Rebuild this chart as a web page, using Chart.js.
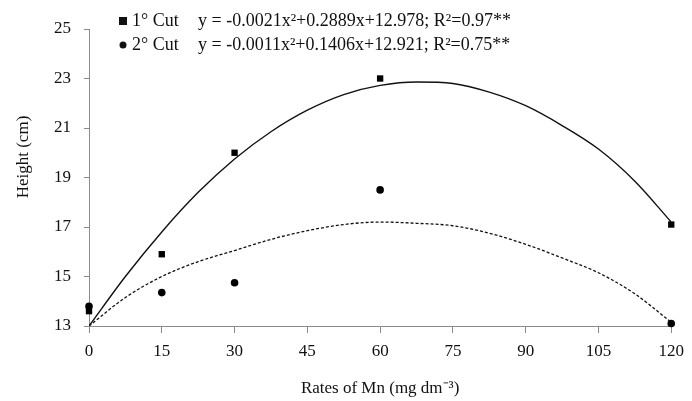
<!DOCTYPE html>
<html>
<head>
<meta charset="utf-8">
<script src="https://cdn.jsdelivr.net/npm/chart.js@4"></script>
<style>
  body { margin: 0; background: #fff; }
  #wrap { width: 692px; height: 401px; }
</style>
</head>
<body>
<div id="wrap"><canvas id="mnChart"></canvas></div>
<script>
// doses of Mn and measured heights
var dosis = [0, 15, 30, 60, 120];
var corte1 = [13.6, 15.9, 20.0, 23.0, 17.1];
var corte2 = [13.8, 14.35, 14.75, 18.5, 13.1];

// trend curves
var curvaX = [0, 7.5, 15, 22.5, 30, 37.5, 45, 52.5, 60, 67.5, 75, 82.5, 90, 97.5, 105, 112.5, 120];
var curva1 = [13.0, 15.0, 16.8, 18.4, 19.75, 20.85, 21.72, 22.35, 22.72, 22.86, 22.8, 22.45, 21.9, 21.1, 20.15, 18.85, 17.2];
var curva2 = [13.0, 14.15, 15.0, 15.6, 16.05, 16.5, 16.85, 17.1, 17.2, 17.15, 17.05, 16.75, 16.3, 15.75, 15.15, 14.3, 13.15];

var etiquetas = ['1° Cut', '2° Cut'];
var ecuaciones = [
  'y = -0.0021x²+0.2889x+12.978; R²=0.97**',
  'y = -0.0011x²+0.1406x+12.921; R²=0.75**'
];
var tituloY = 'Height (cm)';
var tituloX = 'Rates of Mn (mg dm⁻³)';

function pares(xs, ys) {
  return xs.map(function(x, i) { return { x: x, y: ys[i] }; });
}

var fuente = 'Liberation Serif';
var gris = '#8a8a8a';

// leyenda y titulo del eje y dibujados a mano
var extras = {
  id: 'extras',
  afterDraw: function(chart) {
    var ctx = chart.ctx;
    ctx.save();
    ctx.fillStyle = '#111';
    ctx.font = '18px ' + fuente;
    ctx.textBaseline = 'middle';
    // fila 1
    ctx.fillRect(119, 17, 8, 8);
    ctx.fillText(etiquetas[0], 132, 21);
    ctx.fillText(ecuaciones[0], 198, 21);
    // fila 2
    ctx.beginPath();
    ctx.arc(123, 45, 3.5, 0, Math.PI * 2);
    ctx.fill();
    ctx.fillText(etiquetas[1], 132, 45);
    ctx.fillText(ecuaciones[1], 198, 45);
    // titulo eje y
    ctx.font = '17px ' + fuente;
    ctx.translate(24, 157);
    ctx.rotate(-Math.PI / 2);
    ctx.textAlign = 'center';
    ctx.fillText(tituloY, 0, 0);
    ctx.restore();
  }
};

var mnChart = new Chart(document.getElementById('mnChart').getContext('2d'), {
  type: 'scatter',
  data: {
    datasets: [{
      label: etiquetas[0],
      data: pares(dosis, corte1),
      pointStyle: 'rect',
      pointRadius: 4.5,
      backgroundColor: '#000',
      borderColor: '#000',
      borderWidth: 0,
      clip: false
    }, {
      label: etiquetas[1],
      data: pares(dosis, corte2),
      pointStyle: 'circle',
      pointRadius: 3.8,
      backgroundColor: '#000',
      borderColor: '#000',
      borderWidth: 0,
      clip: false
    }, {
      label: 'fit1',
      data: pares(curvaX, curva1),
      showLine: true,
      pointRadius: 0,
      borderColor: '#111',
      borderWidth: 1.4,
      cubicInterpolationMode: 'monotone'
    }, {
      label: 'fit2',
      data: pares(curvaX, curva2),
      showLine: true,
      pointRadius: 0,
      borderColor: '#111',
      borderWidth: 1.3,
      borderDash: [3, 2],
      cubicInterpolationMode: 'monotone'
    }]
  },
  options: {
    responsive: true,
    maintainAspectRatio: false,
    animation: false,
    layout: { padding: { left: 0, right: 18, top: 29, bottom: 0 } },
    scales: {
      x: {
        type: 'linear',
        min: 0,
        max: 120,
        afterFit: function(s) { s.height = 75; },
        ticks: {
          stepSize: 15,
          padding: 8,
          color: '#111',
          font: { family: fuente, size: 17 }
        },
        grid: { drawOnChartArea: false, tickLength: 7, color: gris },
        border: { color: gris, width: 1 },
        title: {
          display: true,
          text: tituloX,
          color: '#111',
          font: { family: fuente, size: 17 },
          padding: { top: 0, bottom: 2 }
        }
      },
      y: {
        min: 13,
        max: 25,
        afterFit: function(s) { s.width = 89; },
        ticks: {
          stepSize: 2,
          padding: 13,
          color: '#111',
          font: { family: fuente, size: 17 }
        },
        grid: { drawOnChartArea: false, tickLength: 5, color: gris },
        border: { color: gris, width: 1 }
      }
    },
    plugins: {
      legend: { display: false },
      tooltip: { enabled: false }
    }
  },
  plugins: [extras]
});
</script>
</body>
</html>
